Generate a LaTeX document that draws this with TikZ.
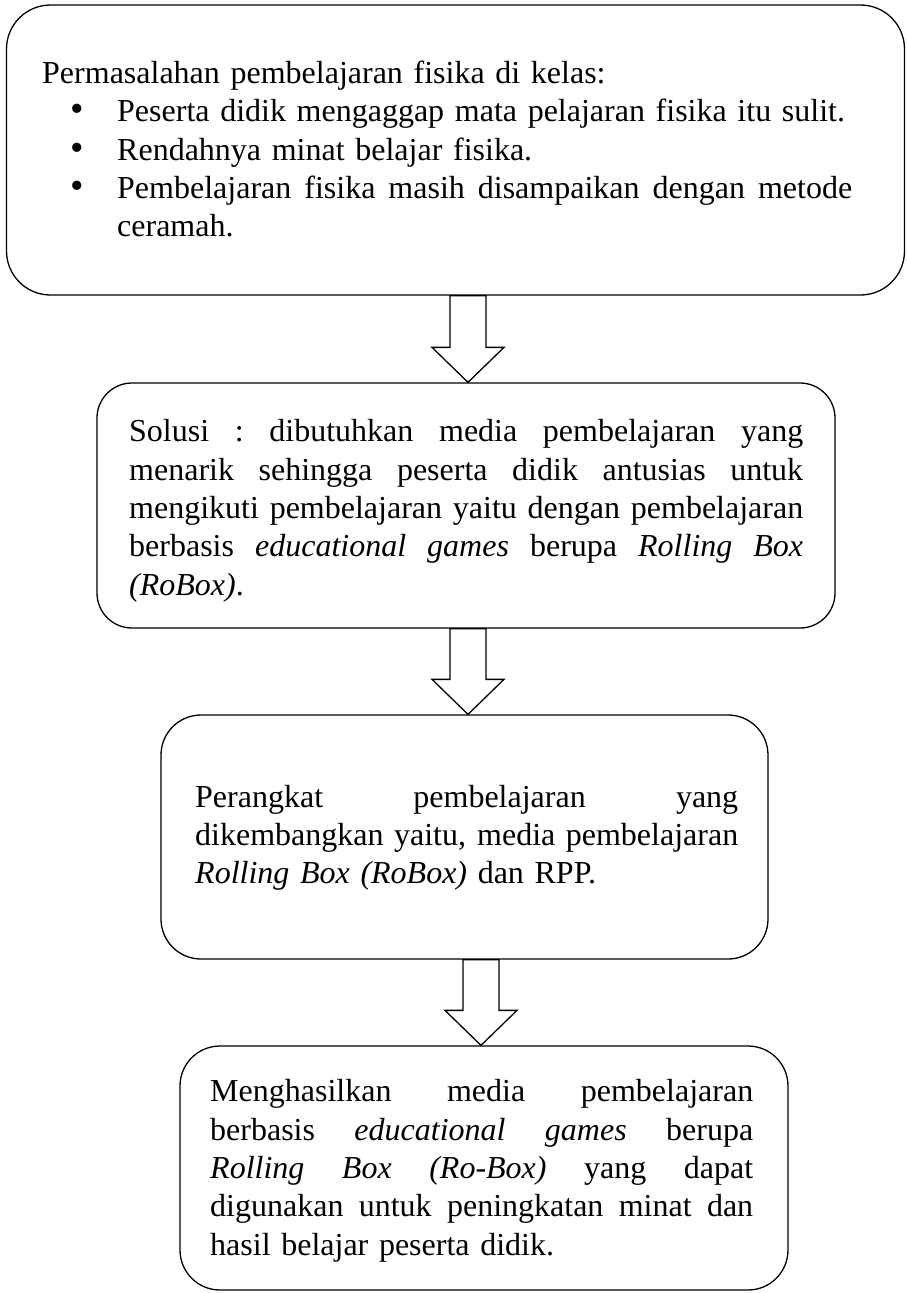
\documentclass[tikz,border=0pt]{standalone}
\usepackage{fontspec}
\setmainfont{Liberation Serif}
\usetikzlibrary{calc}

% one justified line of the given width: the word spaces share the slack equally
\newcommand\jline[2]{\makebox[#1pt][s]{\spaceskip=0.25em plus 1fil\xspaceskip=\spaceskip #2}}
\newcommand\bulletmark{\makebox[47pt][l]{\scalebox{1.2}{\textbullet}}}

\tikzset{
  box/.style={draw, line width=1.3pt, inner sep=0pt},
  txt/.style={inner sep=0pt, align=left, anchor=base west,
              font=\fontsize{32}{38.4}\selectfont},
  barrow/.style={draw, line width=1.3pt, fill=white, line join=miter}
}

% hollow block arrow from the bottom of one box to the top of the next
\newcommand\blockarrow[3]{%
  \draw[barrow]
    ($(#1,0 |- #2.south)+(-18,0)$) --
    ($(#1,0 |- #3.north)+(-18,-35)$) -- ++(-18,0) --
    (#1,0 |- #3.north) --
    ($(#1,0 |- #3.north)+(36,-35)$) -- ++(-18,0) --
    ($(#1,0 |- #2.south)+(18,0)$) -- cycle;}

\begin{document}
\begin{tikzpicture}[x=1pt,y=-1pt]
\useasboundingbox (0,0) rectangle (906,1293);

% boxes
\node[box, rounded corners=44pt, minimum width=898pt, minimum height=290pt] (b1) at (455.5,150) {};
\node[box, rounded corners=35pt, minimum width=738pt, minimum height=245pt] (b2) at (466,505.5) {};
\node[box, rounded corners=40pt, minimum width=607pt, minimum height=244pt] (b3) at (464.5,837) {};
\node[box, rounded corners=40pt, minimum width=608pt, minimum height=244pt] (b4) at (484,1168) {};

% texts
\node[txt, text width=810pt] (t1) at (42,83.3) {%
Permasalahan pembelajaran fisika di kelas:\\
\hspace*{28pt}\bulletmark Peserta didik mengaggap mata pelajaran fisika itu sulit.\\
\hspace*{28pt}\bulletmark Rendahnya minat belajar fisika.\\
\hspace*{28pt}\bulletmark\jline{735}{Pembelajaran fisika masih disampaikan dengan metode}\\
\hspace*{75pt}ceramah.};

\node[txt, text width=674pt] (t2) at (129,441.7) {%
\jline{674}{Solusi : dibutuhkan media pembelajaran yang}\\
\jline{674}{menarik sehingga peserta didik antusias untuk}\\
\jline{674}{mengikuti pembelajaran yaitu dengan pembelajaran}\\
\jline{674}{berbasis \textit{educational games} berupa \textit{Rolling Box}}\\
\textit{(RoBox)}.};

\node[txt, text width=543pt] (t3) at (195,807) {%
\jline{543}{Perangkat pembelajaran yang}\\
\jline{543}{dikembangkan yaitu, media pembelajaran}\\
\textit{Rolling Box (RoBox)} dan RPP.};

\node[txt, text width=543pt] (t4) at (210,1101.7) {%
\jline{543}{Menghasilkan media pembelajaran}\\
\jline{543}{berbasis \textit{educational games} berupa}\\
\jline{543}{\textit{Rolling Box (Ro-Box)} yang dapat}\\
\jline{543}{digunakan untuk peningkatan minat dan}\\
hasil belajar peserta didik.};

% arrows between the boxes
\blockarrow{468}{b1}{b2}
\blockarrow{468}{b2}{b3}
\blockarrow{481}{b3}{b4}
\end{tikzpicture}
\end{document}
